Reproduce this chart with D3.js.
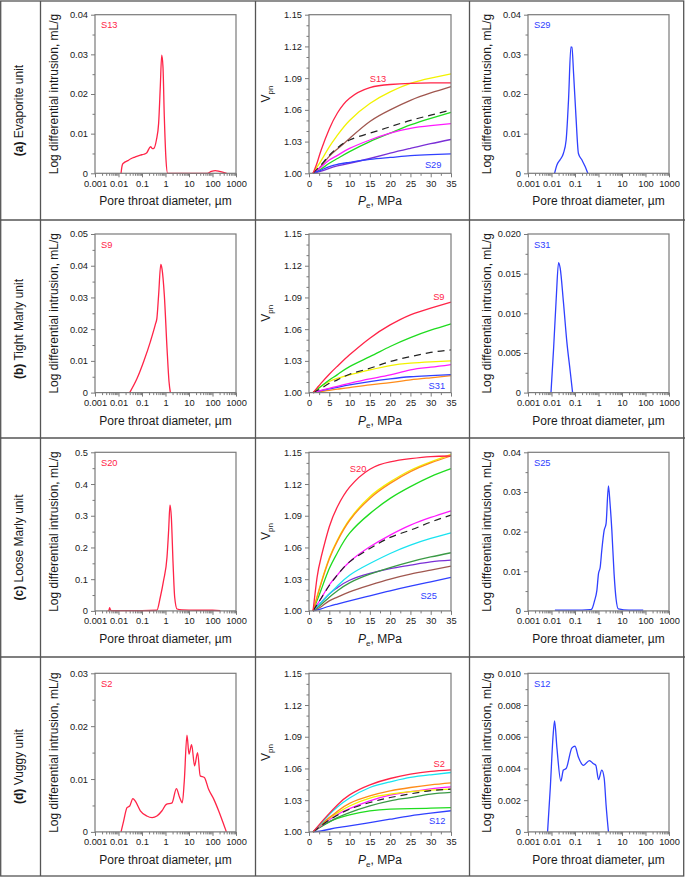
<!DOCTYPE html>
<html><head><meta charset="utf-8">
<script src="https://cdn.jsdelivr.net/npm/d3@7"></script>
<style>
body{margin:0;background:#fff}
svg{display:block}
text{font-family:"Liberation Sans",Arial,Helvetica,sans-serif;fill:#1a1a1a}
</style>
</head><body>
<svg id="c" width="685" height="877"></svg>
<script>
// ---------------- DATA ----------------
const rowTags = ["(a)", "(b)", "(c)", "(d)"];
const rowNames = [" Evaporite unit", " Tight Marly unit", " Loose Marly unit", " Vuggy unit"];

const diamTicks = [0.001, 0.01, 0.1, 1, 10, 100, 1000];
const diamLabels = ["0.001", "0.01", "0.1", "1", "10", "100", "1000"];

const leftSamples = ["S13", "S9", "S20", "S2"];
const rightSamples = ["S29", "S31", "S25", "S12"];

const leftMax = [0.04, 0.05, 0.5, 0.03];
const leftTicks = [[0, 0.01, 0.02, 0.03, 0.04], [0, 0.01, 0.02, 0.03, 0.04, 0.05], [0, 0.1, 0.2, 0.3, 0.4, 0.5], [0, 0.01, 0.02, 0.03]];
const leftTickLabels = [["0", "0.01", "0.02", "0.03", "0.04"], ["0", "0.01", "0.02", "0.03", "0.04", "0.05"], ["0", "0.1", "0.2", "0.3", "0.4", "0.5"], ["0", "0.01", "0.02", "0.03"]];
const rightMax = [0.04, 0.02, 0.04, 0.01];
const rightTicks = [[0, 0.01, 0.02, 0.03, 0.04], [0, 0.005, 0.01, 0.015, 0.02], [0, 0.01, 0.02, 0.03, 0.04], [0, 0.002, 0.004, 0.006, 0.008, 0.01]];
const rightTickLabels = [["0", "0.01", "0.02", "0.03", "0.04"], ["0", "0.005", "0.010", "0.015", "0.020"], ["0", "0.01", "0.02", "0.03", "0.04"], ["0", "0.002", "0.004", "0.006", "0.008", "0.010"]];

// pore throat distributions (diameter µm, log differential intrusion mL/g)
const s13Diam = [0.0128, 0.0145, 0.0166, 0.025, 0.032, 0.05, 0.085, 0.12, 0.16, 0.23, 0.28, 0.32, 0.41, 0.51, 0.6, 0.69, 0.78, 0.89, 1.05, 1.23, 60, 90, 132, 200, 400];
const s13Val  = [0, 0.0021, 0.0026, 0.0032, 0.0036, 0.0041, 0.0046, 0.0048, 0.0052, 0.0067, 0.0062, 0.0063, 0.0084, 0.0126, 0.0218, 0.0298, 0.0269, 0.0143, 0.0034, 0, 0, 0.0005, 0.0007, 0.0005, 0];
const s29Diam = [0.0135, 0.017, 0.023, 0.032, 0.042, 0.053, 0.067, 0.074, 0.087, 0.11, 0.14, 0.195, 0.27, 0.35];
const s29Val  = [0, 0.0021, 0.0034, 0.005, 0.0084, 0.0185, 0.0319, 0.0318, 0.0252, 0.0143, 0.005, 0.0034, 0.0017, 0];
const s9Diam  = [0.030, 0.062, 0.118, 0.226, 0.38, 0.43, 0.51, 0.63, 0.71, 0.89, 1.16, 1.41, 1.61];
const s9Val   = [0, 0.0045, 0.0098, 0.016, 0.0218, 0.0234, 0.0308, 0.0404, 0.039, 0.0308, 0.014, 0.0035, 0];
const s31Diam = [0.0095, 0.0123, 0.0159, 0.020, 0.0234, 0.032, 0.045, 0.063, 0.079];
const s31Val  = [0, 0.0056, 0.0119, 0.0164, 0.0157, 0.0115, 0.0064, 0.0026, 0];
const s20Diam = [0.0035, 0.0039, 0.0042, 0.0046, 0.006, 0.02, 0.1, 0.43, 0.6, 0.83, 1.16, 1.36, 1.55, 1.77, 2.1, 2.46, 3.1, 5, 20, 100, 215];
const s20Val  = [0, 0.002, 0.01, 0.002, 0.001, 0.001, 0.001, 0.002, 0.043, 0.096, 0.17, 0.254, 0.333, 0.296, 0.149, 0.043, 0.006, 0.003, 0.002, 0.002, 0.001];
const s25Diam = [0.014, 0.05, 0.2, 0.44, 0.52, 0.68, 0.85, 1.0, 1.18, 1.38, 1.74, 2.1, 2.65, 3.1, 3.7, 4.6, 5.6, 7, 20, 80];
const s25Val  = [0.0002, 0.0002, 0.0002, 0.0003, 0.0005, 0.0026, 0.0051, 0.0094, 0.011, 0.0153, 0.0203, 0.022, 0.0315, 0.0271, 0.0203, 0.0094, 0.003, 0.0005, 0.0002, 0.0002];
const s2Diam  = [0.0128, 0.0166, 0.023, 0.030, 0.041, 0.052, 0.085, 0.16, 0.27, 0.43, 0.71, 1.08, 1.9, 2.9, 4.0, 5.2, 6.3, 8.2, 10, 12.9, 17.3, 23.2, 30, 45, 69, 113, 182, 300, 390];
const s2Val   = [0, 0.0021, 0.0046, 0.0049, 0.0063, 0.0058, 0.004, 0.003, 0.0027, 0.003, 0.004, 0.0052, 0.0055, 0.0082, 0.0065, 0.0055, 0.0096, 0.0183, 0.0147, 0.0165, 0.0125, 0.015, 0.0106, 0.0103, 0.008, 0.0062, 0.004, 0.0014, 0];
const s12Diam = [0.0068, 0.0089, 0.0116, 0.0135, 0.017, 0.025, 0.032, 0.042, 0.074, 0.10, 0.14, 0.23, 0.41, 0.61, 0.77, 1.0, 1.38, 1.74, 2.1, 2.65];
const s12Val  = [0, 0.0028, 0.006, 0.007, 0.0053, 0.0032, 0.0039, 0.004, 0.0053, 0.0054, 0.0047, 0.0042, 0.0045, 0.0043, 0.0042, 0.0033, 0.0039, 0.0034, 0.0017, 0];

const leftDiams = [s13Diam, s9Diam, s20Diam, s2Diam];
const leftVals = [s13Val, s9Val, s20Val, s2Val];
const rightDiams = [s29Diam, s31Diam, s25Diam, s12Diam];
const rightVals = [s29Val, s31Val, s25Val, s12Val];

// normalized pore volume vs effective stress
const pressure = [1, 2, 3, 5, 7, 10, 15, 20, 25, 30, 35];
const pTicks = [0, 5, 10, 15, 20, 25, 30, 35];
const vTicks = [1.00, 1.03, 1.06, 1.09, 1.12, 1.15];
const vTickLabels = ["1.00", "1.03", "1.06", "1.09", "1.12", "1.15"];

// row (a) Evaporite
const evaBrown   = [1.000, 1.003, 1.007, 1.016, 1.023, 1.033, 1.049, 1.060, 1.069, 1.076, 1.082];
const evaYellow  = [1.000, 1.006, 1.012, 1.025, 1.036, 1.050, 1.066, 1.077, 1.085, 1.090, 1.094];
const evaGreen   = [1.000, 1.002, 1.004, 1.0095, 1.014, 1.0205, 1.030, 1.038, 1.0457, 1.052, 1.0577];
const evaMagenta = [1.000, 1.003, 1.006, 1.0125, 1.017, 1.0235, 1.0315, 1.038, 1.0425, 1.045, 1.047];
const evaPurple  = [1.000, 1.001, 1.002, 1.0047, 1.007, 1.0095, 1.014, 1.019, 1.0236, 1.028, 1.032];
const evaBlue    = [1.000, 1.0015, 1.003, 1.0063, 1.0085, 1.0104, 1.0132, 1.015, 1.0167, 1.0177, 1.0183];
const evaDashed  = [1.000, 1.004, 1.008, 1.017, 1.024, 1.0315, 1.038, 1.044, 1.050, 1.055, 1.060];
const evaRed     = [1.000, 1.010, 1.022, 1.042, 1.057, 1.071, 1.081, 1.084, 1.085, 1.0855, 1.0855];
// row (b) Tight Marly
const tmOrange   = [1.000, 1.0005, 1.001, 1.0022, 1.0033, 1.0047, 1.0073, 1.0095, 1.012, 1.014, 1.016];
const tmBlue     = [1.000, 1.001, 1.0018, 1.0035, 1.005, 1.0073, 1.0104, 1.013, 1.015, 1.016, 1.017];
const tmMagenta  = [1.000, 1.001, 1.002, 1.004, 1.006, 1.0088, 1.013, 1.0167, 1.0215, 1.024, 1.0265];
const tmYellow   = [1.000, 1.003, 1.006, 1.0105, 1.0135, 1.0168, 1.0215, 1.0256, 1.0278, 1.029, 1.030];
const tmGreen    = [1.000, 1.003, 1.006, 1.012, 1.017, 1.0246, 1.034, 1.0436, 1.052, 1.059, 1.065];
const tmDashed   = [1.000, 1.002, 1.004, 1.0088, 1.012, 1.0174, 1.023, 1.0294, 1.034, 1.038, 1.0404];
const tmRed      = [1.000, 1.0045, 1.009, 1.0174, 1.025, 1.0357, 1.0515, 1.064, 1.0736, 1.080, 1.0856];
// row (c) Loose Marly
const lmBlue      = [1.000, 1.001, 1.002, 1.0044, 1.0065, 1.0095, 1.0142, 1.019, 1.0234, 1.0275, 1.0316];
const lmBrown     = [1.000, 1.002, 1.004, 1.0095, 1.013, 1.018, 1.0243, 1.030, 1.0347, 1.0385, 1.0423];
const lmPurple    = [1.000, 1.004, 1.008, 1.016, 1.022, 1.029, 1.0354, 1.040, 1.0433, 1.0464, 1.048];
const lmDarkGreen = [1.000, 1.003, 1.006, 1.013, 1.019, 1.0265, 1.0347, 1.041, 1.0464, 1.051, 1.055];
const lmCyan      = [1.000, 1.004, 1.008, 1.016, 1.0235, 1.0338, 1.0448, 1.0543, 1.0622, 1.0685, 1.0739];
const lmMagenta   = [1.000, 1.006, 1.012, 1.0245, 1.034, 1.0464, 1.0606, 1.0717, 1.0811, 1.0884, 1.0947];
const lmGreen     = [1.000, 1.010, 1.020, 1.040, 1.055, 1.0735, 1.092, 1.1064, 1.1175, 1.127, 1.1345];
const lmYellow    = [1.000, 1.014, 1.027, 1.050, 1.067, 1.0865, 1.108, 1.122, 1.133, 1.141, 1.148];
const lmOrange    = [1.000, 1.013, 1.026, 1.049, 1.066, 1.0855, 1.1064, 1.1206, 1.1317, 1.140, 1.1465];
const lmDashed    = [1.000, 1.006, 1.012, 1.024, 1.034, 1.0464, 1.059, 1.0695, 1.0764, 1.084, 1.0906];
const lmRed       = [1.000, 1.032, 1.051, 1.0796, 1.0985, 1.117, 1.134, 1.141, 1.144, 1.146, 1.1465];
// row (d) Vuggy
const vgBlue      = [1.000, 1.0005, 1.001, 1.0025, 1.004, 1.0057, 1.0088, 1.012, 1.0152, 1.0177, 1.020];
const vgGreen     = [1.000, 1.003, 1.0055, 1.0095, 1.0128, 1.0162, 1.0198, 1.0215, 1.0221, 1.0224, 1.023];
const vgDarkGreen = [1.000, 1.0025, 1.005, 1.0095, 1.0135, 1.0183, 1.0246, 1.0294, 1.0325, 1.0357, 1.0373];
const vgMagenta   = [1.000, 1.003, 1.006, 1.0115, 1.0165, 1.0221, 1.0294, 1.0347, 1.038, 1.0407, 1.0426];
const vgYellow    = [1.000, 1.0035, 1.007, 1.013, 1.018, 1.0245, 1.032, 1.0357, 1.038, 1.0395, 1.0404];
const vgOrange    = [1.000, 1.0035, 1.007, 1.0135, 1.0195, 1.027, 1.034, 1.0388, 1.042, 1.0445, 1.0464];
const vgCyan      = [1.000, 1.004, 1.008, 1.0165, 1.0235, 1.032, 1.042, 1.0474, 1.0515, 1.054, 1.0562];
const vgDashed    = [1.000, 1.003, 1.006, 1.0113, 1.0158, 1.0215, 1.0278, 1.0325, 1.036, 1.039, 1.0404];
const vgRed       = [1.000, 1.0045, 1.009, 1.0175, 1.0255, 1.035, 1.0445, 1.0505, 1.0546, 1.0572, 1.0587];

const C = {red: "#ff2447", yellow: "#f2f200", brown: "#a0574f", green: "#1fdc1f", magenta: "#ff1aff",
  purple: "#7a2fd6", blue: "#3040ff", orange: "#ff8c1a", cyan: "#19e3f0", darkgreen: "#3a9a45", dashed: "#222222"};

const vpnSeries = [
  [[evaBrown, "brown"], [evaYellow, "yellow"], [evaGreen, "green"], [evaMagenta, "magenta"], [evaPurple, "purple"], [evaBlue, "blue"], [evaDashed, "dashed"], [evaRed, "red"]],
  [[tmOrange, "orange"], [tmBlue, "blue"], [tmMagenta, "magenta"], [tmYellow, "yellow"], [tmGreen, "green"], [tmDashed, "dashed"], [tmRed, "red"]],
  [[lmBlue, "blue"], [lmBrown, "brown"], [lmPurple, "purple"], [lmDarkGreen, "darkgreen"], [lmCyan, "cyan"], [lmMagenta, "magenta"], [lmGreen, "green"], [lmYellow, "yellow"], [lmOrange, "orange"], [lmDashed, "dashed"], [lmRed, "red"]],
  [[vgBlue, "blue"], [vgGreen, "green"], [vgDarkGreen, "darkgreen"], [vgMagenta, "magenta"], [vgYellow, "yellow"], [vgOrange, "orange"], [vgCyan, "cyan"], [vgDashed, "dashed"], [vgRed, "red"]]
];
// labels on the Vpn panels: [text, P, Vpn, colour]
const vpnLabels = [
  [["S13", 17.0, 1.0892, "red"], ["S29", 30.6, 1.0082, "blue"]],
  [["S9", 32.0, 1.0906, "red"], ["S31", 31.5, 1.0063, "blue"]],
  [["S20", 12.1, 1.1348, "red"], ["S25", 29.5, 1.0142, "blue"]],
  [["S2", 32.1, 1.0647, "red"], ["S12", 31.6, 1.0110, "blue"]]
];

// ---------------- LAYOUT ----------------
const svg = d3.select("#c");
const rowLines = [1, 220, 438, 657, 876];
const colLines = [40.5, 255.5, 469.5];
const plotTop = [14.7, 234, 452.3, 673.3];
const plotH = 158.6;
const colLeft = [95, 309, 528];
const colW = [141, 142, 141];
const frameColor = "#7a7a7a";

const grid = svg.append("g").attr("stroke", "#555").attr("stroke-width", 1.3).attr("fill", "none");
grid.append("rect").attr("x", 0.7).attr("y", rowLines[0]).attr("width", 683).attr("height", rowLines[4] - rowLines[0]);
rowLines.slice(1, 4).forEach(y => grid.append("line").attr("x1", 0).attr("x2", 685).attr("y1", y).attr("y2", y));
colLines.forEach(x => grid.append("line").attr("x1", x).attr("x2", x).attr("y1", rowLines[0]).attr("y2", rowLines[4]));

function styleAxis(g) {
  g.select(".domain").remove();
  g.selectAll(".tick line").attr("stroke", frameColor);
  g.selectAll(".tick text").attr("font-size", 9.3).attr("fill", "#1a1a1a").style("font-family", '"Liberation Sans",Arial,sans-serif');
}

function minorLog() {
  const out = [];
  for (let e = -3; e < 3; e++) for (let m = 2; m <= 9; m++) out.push(m * Math.pow(10, e));
  return out;
}

function porePanel(r, c, diams, vals, yMax, ticks, tickLabels, name, color) {
  const x0 = colLeft[c], w = colW[c], y0 = plotTop[r], h = plotH;
  const x = d3.scaleLog().domain([0.001, 1000]).range([x0, x0 + w]);
  const y = d3.scaleLinear().domain([0, yMax]).range([y0 + h, y0]);
  const g = svg.append("g");
  g.append("g").attr("transform", `translate(0,${y0 + h})`)
    .call(d3.axisBottom(x).tickValues(minorLog()).tickSize(2.5).tickFormat("")).call(styleAxis);
  g.append("g").attr("transform", `translate(0,${y0 + h})`)
    .call(d3.axisBottom(x).tickValues(diamTicks).tickSize(4).tickPadding(3).tickFormat((d, i) => diamLabels[i])).call(styleAxis);
  const step = ticks[1] - ticks[0];
  const minors = ticks.slice(0, -1).map(t => t + step / 2);
  g.append("g").attr("transform", `translate(${x0},0)`)
    .call(d3.axisLeft(y).tickValues(minors).tickSize(2.5).tickFormat("")).call(styleAxis);
  g.append("g").attr("transform", `translate(${x0},0)`)
    .call(d3.axisLeft(y).tickValues(ticks).tickSize(4).tickPadding(3).tickFormat((d, i) => tickLabels[i])).call(styleAxis);
  const pts = diams.map((d, i) => [d, vals[i]]);
  const line = d3.line().x(d => x(d[0])).y(d => y(d[1])).curve(d3.curveMonotoneX);
  g.append("path").attr("d", line(pts)).attr("fill", "none").attr("stroke", color).attr("stroke-width", 1.3);
  g.append("rect").attr("x", x0).attr("y", y0).attr("width", w).attr("height", h)
    .attr("fill", "none").attr("stroke", frameColor).attr("stroke-width", 1.2);
  g.append("text").attr("x", x0 + 6).attr("y", y0 + 13.5).attr("font-size", 9.3).style("fill", color).text(name);
  g.append("text").attr("x", x0 + w / 2).attr("y", y0 + h + 32).attr("text-anchor", "middle")
    .attr("font-size", 12).text("Pore throat diameter, µm");
  g.append("text").attr("transform", `translate(${x0 - 37},${y0 + h / 2}) rotate(-90)`).attr("text-anchor", "middle")
    .attr("font-size", 12).text("Log differential intrusion, mL/g");
}

function vpnPanel(r) {
  const c = 1;
  const x0 = colLeft[c], w = colW[c], y0 = plotTop[r], h = plotH;
  const x = d3.scaleLinear().domain([0, 35]).range([x0, x0 + w]);
  const y = d3.scaleLinear().domain([1.0, 1.15]).range([y0 + h, y0]);
  const g = svg.append("g");
  const pMinor = pTicks.slice(0, -1).map(t => t + 2.5);
  g.append("g").attr("transform", `translate(0,${y0 + h})`)
    .call(d3.axisBottom(x).tickValues(pMinor).tickSize(2.5).tickFormat("")).call(styleAxis);
  g.append("g").attr("transform", `translate(0,${y0 + h})`)
    .call(d3.axisBottom(x).tickValues(pTicks).tickSize(4).tickPadding(3).tickFormat(d3.format("d"))).call(styleAxis);
  const vMinor = [];
  vTicks.slice(0, -1).forEach(t => { vMinor.push(t + 0.01, t + 0.02); });
  g.append("g").attr("transform", `translate(${x0},0)`)
    .call(d3.axisLeft(y).tickValues(vMinor).tickSize(2.5).tickFormat("")).call(styleAxis);
  g.append("g").attr("transform", `translate(${x0},0)`)
    .call(d3.axisLeft(y).tickValues(vTicks).tickSize(4).tickPadding(3).tickFormat((d, i) => vTickLabels[i])).call(styleAxis);
  const line = d3.line().x(d => x(d[0])).y(d => y(d[1])).curve(d3.curveNatural);
  vpnSeries[r].forEach(([vals, key]) => {
    const pts = pressure.map((p, i) => [p, vals[i]]);
    const p = g.append("path").attr("d", line(pts)).attr("fill", "none")
      .attr("stroke", C[key]).attr("stroke-width", key === "dashed" ? 1.2 : 1.3);
    if (key === "dashed") p.attr("stroke-dasharray", "7,5");
  });
  g.append("rect").attr("x", x0).attr("y", y0).attr("width", w).attr("height", h)
    .attr("fill", "none").attr("stroke", frameColor).attr("stroke-width", 1.2);
  vpnLabels[r].forEach(([t, p, v, key]) => {
    g.append("text").attr("x", x(p)).attr("y", y(v) + 3.5).attr("text-anchor", "middle")
      .attr("font-size", 9.3).style("fill", C[key]).text(t);
  });
  const xt = g.append("text").attr("x", x0 + w / 2).attr("y", y0 + h + 32).attr("text-anchor", "middle").attr("font-size", 12);
  xt.append("tspan").attr("font-style", "italic").text("P");
  xt.append("tspan").attr("font-size", 8).attr("dy", 3).text("e");
  xt.append("tspan").attr("dy", -3).text(", MPa");
  const yt = g.append("text").attr("transform", `translate(${x0 - 39},${y0 + h / 2}) rotate(-90)`)
    .attr("text-anchor", "middle").attr("font-size", 12);
  yt.append("tspan").text("V");
  yt.append("tspan").attr("font-size", 8).attr("dy", 3).text("pn");
}

for (let r = 0; r < 4; r++) {
  const t = svg.append("text").attr("transform", `translate(23,${(rowLines[r] + rowLines[r + 1]) / 2}) rotate(-90)`)
    .attr("text-anchor", "middle").attr("font-size", 12);
  t.append("tspan").attr("font-weight", "bold").text(rowTags[r]);
  t.append("tspan").text(rowNames[r]);
  porePanel(r, 0, leftDiams[r], leftVals[r], leftMax[r], leftTicks[r], leftTickLabels[r], leftSamples[r], C.red);
  vpnPanel(r);
  porePanel(r, 2, rightDiams[r], rightVals[r], rightMax[r], rightTicks[r], rightTickLabels[r], rightSamples[r], C.blue);
}
</script>
</body></html>
